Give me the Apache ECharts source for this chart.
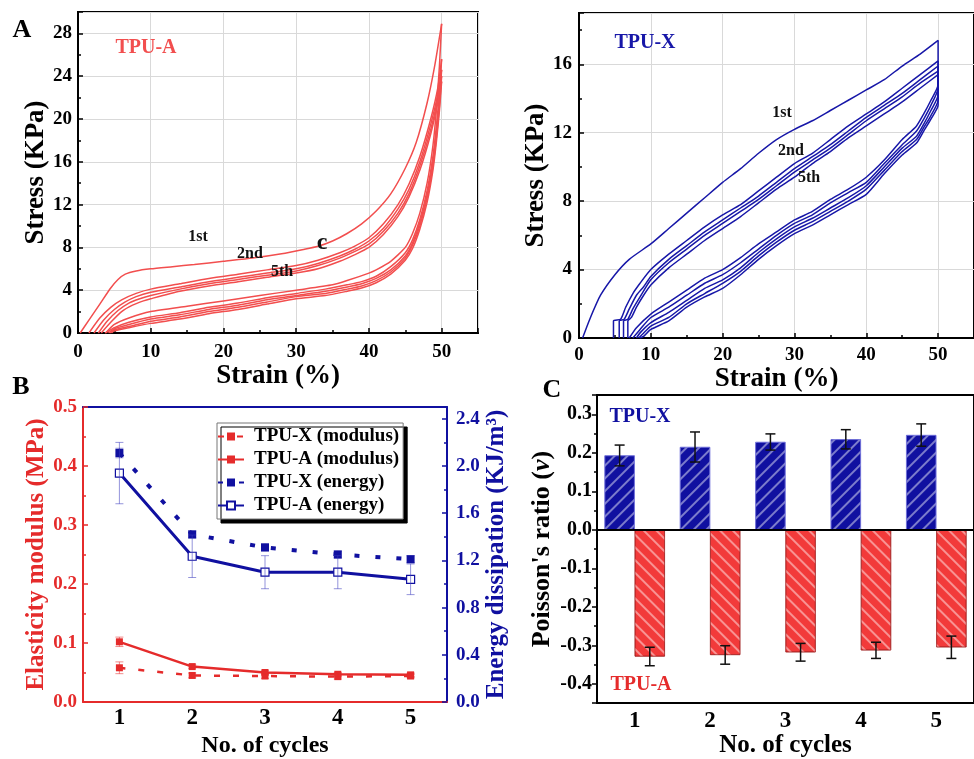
<!DOCTYPE html>
<html>
<head>
<meta charset="utf-8">
<script src="https://cdn.jsdelivr.net/npm/echarts@6/dist/echarts.min.js"></script>
<style>html,body{margin:0;padding:0;background:#fff}#c{width:974px;height:759px}</style>
</head>
<body>
<div id="c"></div>
<script>
// ---------- Panel A : TPU-A hysteresis loops (strain %, stress KPa) ----------
const a1Load = [[0.3,0],[1.5,1.2],[3,2.7],[4.5,4.2],[5.5,5.0],[6.5,5.5],[8,5.8],[10,6.0],[13,6.2],[16,6.4],[20,6.7],[24,7.0],[28,7.4],[31,7.8],[33,8.1],[35,8.6],[37,9.3],[39,10.2],[41,11.4],[43,13.0],[45,15.4],[46.5,17.8],[48,21.5],[49,24.8],[50,28.9]];
const a1Unload = [[50,28.9],[49.7,25],[49.3,21],[48.8,17.5],[48,14],[47,11.2],[46,9.3],[45,8.0],[43,6.7],[41,5.9],[40,5.6],[37,4.9],[35,4.5],[30,4.0],[25,3.5],[20,3.0],[15,2.5],[10,2.0],[7,1.4],[5,0.8],[3.8,0]];
const a2Load = [[1.5,0],[3,1.4],[4.5,2.4],[6,3.1],[8,3.7],[10,4.1],[14,4.6],[18,5.1],[22,5.5],[26,5.9],[30,6.3],[33,6.8],[36,7.5],[38,8.1],[40,8.9],[42,10.2],[44,12.0],[45.5,13.9],[47,16.5],[48.5,20.0],[49.5,23.0],[50,25.6]];
const a2Unload = [[50,25.6],[49.7,22.5],[49.3,19.5],[48.8,16.5],[48,13.3],[47,10.6],[46,8.7],[45,7.5],[43,6.2],[41,5.3],[39,4.8],[37,4.5],[34,4.1],[30,3.7],[26,3.3],[22,2.8],[18,2.4],[14,1.9],[10,1.5],[7,1.0],[5,0.5],[4,0.1],[3.7,0]];
const a3Load = [[2.2,0],[3.5,1.2],[5,2.2],[6.5,2.9],[8,3.4],[10,3.8],[14,4.3],[18,4.8],[22,5.2],[26,5.6],[30,6.0],[33,6.5],[36,7.2],[38,7.8],[40,8.6],[42,9.8],[44,11.6],[45.5,13.4],[47,16.0],[48.5,19.5],[49.5,22.4],[50,24.6]];
const a3Unload = [[50,24.6],[49.7,21.7],[49.3,18.8],[48.8,16.0],[48,12.9],[47,10.3],[46,8.4],[45,7.2],[43,5.9],[41,5.1],[39,4.6],[37,4.3],[34,3.9],[30,3.5],[26,3.1],[22,2.6],[18,2.2],[14,1.7],[10,1.3],[7,0.8],[5,0.4],[4.2,0]];
const a4Load = [[2.8,0],[4,1.1],[5.5,2.1],[7,2.8],[8.5,3.2],[10,3.5],[14,4.1],[18,4.6],[22,5.0],[26,5.4],[30,5.8],[33,6.3],[36,7.0],[38,7.6],[40,8.3],[42,9.5],[44,11.2],[45.5,13.0],[47,15.6],[48.5,19.0],[49.5,22.0],[50,24.0]];
const a4Unload = [[50,24.0],[49.7,21.2],[49.3,18.4],[48.8,15.6],[48,12.6],[47,10.0],[46,8.2],[45,7.0],[43,5.7],[41,4.9],[39,4.4],[37,4.1],[34,3.7],[30,3.4],[26,2.9],[22,2.4],[18,2.0],[14,1.5],[10,1.1],[7,0.6],[5,0.3],[4.4,0]];
const a5Load = [[3.2,0],[4.5,1.0],[6,2.0],[7.5,2.6],[9,3.0],[10,3.2],[14,3.9],[18,4.4],[22,4.8],[26,5.2],[30,5.6],[33,6.0],[36,6.7],[38,7.3],[40,8.0],[42,9.2],[44,10.9],[45.5,12.7],[47,15.2],[48.5,18.6],[49.5,21.6],[50,23.5]];
const a5Unload = [[50,23.5],[49.7,20.8],[49.3,18.0],[48.8,15.2],[48,12.2],[47,9.7],[46,7.9],[45,6.8],[43,5.5],[41,4.7],[39,4.2],[37,3.9],[34,3.5],[30,3.2],[26,2.7],[22,2.2],[18,1.8],[14,1.3],[10,0.9],[7,0.5],[5,0.2],[4.6,0]];

// ---------- Panel A : TPU-X hysteresis loops ----------
const x1Load = [[0.5,0],[1.5,1.1],[3,2.5],[5,3.7],[7,4.6],[10,5.5],[12.5,6.4],[15,7.3],[17.5,8.2],[20,9.1],[22.5,9.9],[25,10.8],[27.5,11.6],[30,12.2],[32.5,12.7],[35,13.3],[37.5,13.9],[40,14.5],[42.5,15.1],[45,15.9],[47.5,16.6],[50,17.4]];
const x1Unload = [[50,17.4],[50,14.8],[49,13.9],[48,13.1],[47,12.4],[45,11.6],[42.5,10.4],[40,9.4],[37.5,8.7],[35,8.1],[32.5,7.4],[30,6.9],[27.5,6.2],[25,5.5],[22.5,4.7],[20,4.0],[17.5,3.5],[15,2.8],[12.5,2.1],[10,1.4],[8,0.6],[7,0]];
const x2Load = [[4.8,0],[4.8,1.0],[5.8,1.1],[6.5,1.8],[7.5,2.6],[8.5,3.2],[10,4.0],[12.5,4.9],[15,5.7],[17.5,6.5],[20,7.2],[22.5,7.8],[25,8.6],[27.5,9.4],[30,10.2],[32.5,10.8],[35,11.6],[37.5,12.4],[40,13.1],[42.5,13.8],[45,14.6],[47.5,15.4],[50,16.2]];
const x2Unload = [[50,16.2],[50,14.6],[49,13.6],[48,12.8],[47,12.1],[45,11.3],[42.5,10.2],[40,9.1],[37.5,8.5],[35,7.9],[32.5,7.2],[30,6.7],[27.5,6.0],[25,5.2],[22.5,4.4],[20,3.7],[17.5,3.2],[15,2.5],[12.5,1.8],[10,1.2],[8.5,0.5],[7.5,0]];
const x3Load = [[5.6,0],[5.6,1.0],[6.3,1.1],[7,1.7],[8,2.5],[9,3.0],[10,3.6],[12.5,4.6],[15,5.4],[17.5,6.2],[20,6.9],[22.5,7.6],[25,8.3],[27.5,9.1],[30,9.9],[32.5,10.6],[35,11.3],[37.5,12.1],[40,12.9],[42.5,13.6],[45,14.3],[47.5,15.1],[50,15.9]];
const x3Unload = [[50,15.9],[50,14.2],[49,13.3],[48,12.5],[47,11.8],[45,11.1],[42.5,10.0],[40,8.9],[37.5,8.2],[35,7.6],[32.5,7.0],[30,6.5],[27.5,5.8],[25,5.0],[22.5,4.1],[20,3.4],[17.5,2.9],[15,2.2],[12.5,1.5],[10,0.9],[8.5,0.3],[8,0]];
const x4Load = [[6.2,0],[6.2,1.0],[6.8,1.1],[7.5,1.7],[8.5,2.4],[10,3.4],[12.5,4.4],[15,5.2],[17.5,6.0],[20,6.7],[22.5,7.4],[25,8.1],[27.5,8.9],[30,9.7],[32.5,10.4],[35,11.1],[37.5,11.9],[40,12.7],[42.5,13.4],[45,14.1],[47.5,14.9],[50,15.6]];
const x4Unload = [[50,15.6],[50,13.9],[49,13.0],[48,12.3],[47,11.6],[45,10.9],[42.5,9.8],[40,8.7],[37.5,8.0],[35,7.4],[32.5,6.8],[30,6.3],[27.5,5.6],[25,4.8],[22.5,3.9],[20,3.2],[17.5,2.6],[15,2.0],[12.5,1.2],[10,0.7],[8.8,0.2],[8.3,0]];
const x5Load = [[6.8,0],[6.8,1.0],[7.3,1.2],[8,1.8],[9,2.5],[10,3.1],[12.5,4.1],[15,4.9],[17.5,5.7],[20,6.4],[22.5,7.1],[25,7.9],[27.5,8.7],[30,9.4],[32.5,10.2],[35,10.9],[37.5,11.7],[40,12.4],[42.5,13.1],[45,13.8],[47.5,14.6],[50,15.4]];
const x5Unload = [[50,15.4],[50,13.6],[49,12.8],[48,12.1],[47,11.4],[45,10.7],[42.5,9.6],[40,8.4],[37.5,7.8],[35,7.2],[32.5,6.6],[30,6.1],[27.5,5.4],[25,4.6],[22.5,3.7],[20,2.9],[17.5,2.4],[15,1.8],[12.5,1.0],[10,0.5],[9,0.1],[8.5,0]];

// ---------- Panel B ----------
const cycles = ['1','2','3','4','5'];
const xModulus = [0.058,0.045,0.044,0.043,0.044];
const xModulusErr = [0.010,0.004,0.004,0.004,0.003];
const aModulus = [0.102,0.060,0.050,0.047,0.046];
const aModulusErr = [0.008,0.003,0.003,0.003,0.003];
const xEnergy = [2.11,1.42,1.31,1.25,1.21];
const xEnergyErr = [0.04,0.03,0.03,0.03,0.03];
const aEnergy = [1.94,1.235,1.10,1.10,1.04];
const aEnergyErr = [0.26,0.18,0.14,0.14,0.13];

// ---------- Panel C ----------
const xPoisson = [0.193,0.215,0.228,0.235,0.246];
const xPoissonErr = [0.027,0.039,0.021,0.025,0.029];
const aPoisson = [-0.329,-0.325,-0.318,-0.313,-0.305];
const aPoissonErr = [0.024,0.024,0.023,0.021,0.029];

const FF = '"Liberation Serif", "Times New Roman", serif';
const RED = '#f24e4e';
const BLUE = '#1717a8';
const BRED = '#e52b2b';
const BBLUE = '#1010a0';

const chart = echarts.init(document.getElementById('c'), null, {renderer: 'canvas'});

function loopSeries(arr, xi, color) {
  return arr.map(d => ({
    type: 'line', xAxisIndex: xi, yAxisIndex: xi, data: d, showSymbol: false, symbol: 'none',
    smooth: 0.2, lineStyle: {color: color, width: 1.5}, silent: true, z: 3
  }));
}

function errSeries(xi, yi, values, errs, color, width, cap, offset) {
  return {
    type: 'custom', xAxisIndex: xi, yAxisIndex: yi, silent: true, z: 5,
    data: values.map((v, i) => [i, v, errs[i]]),
    renderItem: function (params, api) {
      const i = api.value(0), v = api.value(1), e = api.value(2);
      const t = api.coord([i, v + e]);
      const b = api.coord([i, v - e]);
      const x = t[0] + offset * api.size([1, 0])[0];
      const st = {stroke: color, lineWidth: width};
      return {type: 'group', children: [
        {type: 'line', shape: {x1: x, y1: t[1], x2: x, y2: b[1]}, style: st},
        {type: 'line', shape: {x1: x - cap, y1: t[1], x2: x + cap, y2: t[1]}, style: st},
        {type: 'line', shape: {x1: x - cap, y1: b[1], x2: x + cap, y2: b[1]}, style: st}
      ]};
    }
  };
}

const tickLab = (color, size) => ({fontFamily: FF, fontWeight: 'bold', fontSize: size, color: color});
const nameSty = (color, size) => ({fontFamily: FF, fontWeight: 'bold', fontSize: size, color: color});

function aXAxis(gi, margin) {
  return {
    type: 'value', gridIndex: gi, min: 0, max: 55, interval: 10,
    name: 'Strain (%)', nameLocation: 'middle', nameGap: 24, nameTextStyle: nameSty('#000', 27),
    axisLine: {show: true, onZero: false, lineStyle: {color: '#000', width: 2}},
    axisTick: {show: true, inside: true, length: 5, lineStyle: {color: '#000', width: 1.5}},
    minorTick: {show: true, splitNumber: 2, length: 3, lineStyle: {color: '#000', width: 1.5}},
    axisLabel: Object.assign(tickLab('#000', 19), {margin: margin, showMaxLabel: false}),
    splitLine: {show: true, lineStyle: {color: '#d9d9d9', width: 1}}
  };
}
function aYAxis(gi, max, gap, margin) {
  return {
    type: 'value', gridIndex: gi, min: 0, max: max, interval: 4,
    name: 'Stress (KPa)', nameLocation: 'middle', nameGap: gap, nameRotate: 90, nameTextStyle: nameSty('#000', 27),
    axisLine: {show: true, onZero: false, lineStyle: {color: '#000', width: 2}},
    axisTick: {show: true, inside: true, length: 5, lineStyle: {color: '#000', width: 1.5}},
    minorTick: {show: true, splitNumber: 2, length: 3, lineStyle: {color: '#000', width: 1.5}},
    axisLabel: Object.assign(tickLab('#000', 19), {margin: margin, showMaxLabel: false}),
    splitLine: {show: true, lineStyle: {color: '#d9d9d9', width: 1}}
  };
}

const decalX = {symbol: 'rect', symbolSize: 1, dashArrayX: [1, 0], dashArrayY: [1.2, 7], rotation: -Math.PI / 4, color: 'rgba(255,255,255,0.45)'};
const decalA = {symbol: 'rect', symbolSize: 1, dashArrayX: [1, 0], dashArrayY: [1.2, 7], rotation: Math.PI / 4, color: 'rgba(255,255,255,0.45)'};

const txt = (x, y, text, size, color, align) => ({
  type: 'text', x: x, y: y, silent: true, z: 100,
  style: {text: text, fill: color, font: 'bold ' + size + 'px ' + FF, align: align || 'center', verticalAlign: 'middle'}
});

const option = {
  animation: false,
  backgroundColor: '#fff',
  textStyle: {fontFamily: FF},
  grid: [
    {left: 78, top: 12, width: 400, height: 321, show: true, borderColor: '#000', borderWidth: 2, backgroundColor: 'transparent'},
    {left: 579, top: 13, width: 403, height: 325, show: true, borderColor: '#000', borderWidth: 2, backgroundColor: 'transparent'},
    {left: 83, top: 407, width: 364, height: 296},
    {left: 597, top: 395, width: 383, height: 310, show: true, borderColor: '#000', borderWidth: 2, backgroundColor: 'transparent'}
  ],
  legend: {
    data: ['TPU-X (modulus)', 'TPU-A (modulus)', 'TPU-X (energy)', 'TPU-A (energy)'],
    orient: 'vertical', left: 217, top: 423, itemWidth: 26, itemHeight: 10, itemGap: 4,
    padding: [4, 4, 4, 0], backgroundColor: '#fff', borderColor: '#777', borderWidth: 1,
    shadowColor: '#000', shadowOffsetX: 4, shadowOffsetY: 4, shadowBlur: 0.01,
    selectedMode: false,
    textStyle: {fontFamily: FF, fontWeight: 'bold', fontSize: 19, color: '#000', padding: [0, 0, 0, 5]}
  },
  xAxis: [
    aXAxis(0, 10),
    aXAxis(1, 8),
    {
      type: 'category', gridIndex: 2, data: cycles, position: 'bottom',
      name: 'No. of cycles', nameLocation: 'middle', nameGap: 32, nameTextStyle: nameSty('#000', 24),
      axisLine: {show: true, onZero: false, lineStyle: {color: BRED, width: 2}},
      axisTick: {show: false}, axisLabel: Object.assign(tickLab('#000', 23), {margin: 5}),
      splitLine: {show: false}
    },
    {
      type: 'category', gridIndex: 2, data: cycles, position: 'top',
      axisLine: {show: true, onZero: false, lineStyle: {color: BBLUE, width: 2}},
      axisTick: {show: false}, axisLabel: {show: false}, splitLine: {show: false}
    },
    {
      type: 'category', gridIndex: 3, data: cycles, position: 'bottom',
      name: 'No. of cycles', nameLocation: 'middle', nameGap: 28, nameTextStyle: nameSty('#000', 25),
      axisLine: {show: true, onZero: false, lineStyle: {color: '#000', width: 2}},
      axisTick: {show: false}, axisLabel: Object.assign(tickLab('#000', 23), {margin: 6}),
      splitLine: {show: false}
    }
  ],
  yAxis: [
    aYAxis(0, 30, 28, 6),
    aYAxis(1, 19, 24, 7),
    {
      type: 'value', gridIndex: 2, min: 0, max: 0.5, interval: 0.1, position: 'left',
      name: 'Elasticity modulus (MPa)', nameLocation: 'middle', nameGap: 32, nameRotate: 90, nameTextStyle: nameSty(BRED, 25),
      axisLine: {show: true, onZero: false, lineStyle: {color: BRED, width: 2}},
      axisTick: {show: true, inside: true, length: 5, lineStyle: {color: BRED, width: 1.5}},
      minorTick: {show: true, splitNumber: 2, length: 3, lineStyle: {color: BRED, width: 1.5}},
      axisLabel: Object.assign(tickLab(BRED, 19), {margin: 6, formatter: v => v.toFixed(1)}),
      splitLine: {show: false}
    },
    {
      type: 'value', gridIndex: 2, min: 0, max: 2.5, interval: 0.4, position: 'right',
      name: 'Energy dissipation (KJ/m³)', nameLocation: 'middle', nameGap: 34, nameRotate: 90, nameTextStyle: nameSty(BBLUE, 25),
      axisLine: {show: true, onZero: false, lineStyle: {color: BBLUE, width: 2}},
      axisTick: {show: true, inside: true, length: 5, lineStyle: {color: BBLUE, width: 1.5}},
      minorTick: {show: true, splitNumber: 2, length: 3, lineStyle: {color: BBLUE, width: 1.5}},
      axisLabel: Object.assign(tickLab(BBLUE, 19), {margin: 9, showMaxLabel: false, formatter: v => v.toFixed(1)}),
      splitLine: {show: false}
    },
    {
      type: 'value', gridIndex: 3, min: -0.45, max: 0.35, splitNumber: 8,
      name: "Poisson's ratio ({i|ν})", nameLocation: 'middle', nameGap: 42, nameRotate: 90,
      nameTextStyle: Object.assign(nameSty('#000', 26), {rich: {i: {fontFamily: FF, fontWeight: 'bold', fontStyle: 'italic', fontSize: 26, color: '#000'}}}),
      axisLine: {show: true, onZero: false, lineStyle: {color: '#000', width: 2}},
      axisTick: {show: true, inside: false, length: 5, lineStyle: {color: '#000', width: 1.5}},
      minorTick: {show: true, splitNumber: 2, length: 3, lineStyle: {color: '#000', width: 1.5}},
      axisLabel: Object.assign(tickLab('#000', 20), {margin: 5, showMinLabel: false, showMaxLabel: false, formatter: v => v.toFixed(1)}),
      splitLine: {show: false}
    }
  ],
  graphic: [
    txt(22, 30, 'A', 26, '#000'),
    txt(21, 387, 'B', 26, '#000'),
    txt(552, 390, 'C', 26, '#000'),
    txt(146, 48, 'TPU-A', 20, RED),
    txt(198, 237, '1st', 16, '#111'),
    txt(250, 254, '2nd', 16, '#111'),
    txt(282, 272, '5th', 16, '#111'),
    txt(322, 243, 'c', 24, '#111'),
    txt(645, 43, 'TPU-X', 20, BLUE),
    txt(782, 113, '1st', 16, '#111'),
    txt(791, 151, '2nd', 16, '#111'),
    txt(809, 178, '5th', 16, '#111'),
    txt(640, 417, 'TPU-X', 20, BBLUE),
    txt(641, 685, 'TPU-A', 20, BRED)
  ],
  series: [].concat(
    loopSeries([a1Load, a1Unload, a2Load, a2Unload, a3Load, a3Unload, a4Load, a4Unload, a5Load, a5Unload], 0, RED),
    loopSeries([x1Load, x1Unload, x2Load, x2Unload, x3Load, x3Unload, x4Load, x4Unload, x5Load, x5Unload], 1, BLUE),
    [
      errSeries(2, 2, xModulus, xModulusErr, 'rgba(229,43,43,0.55)', 1, 4, 0),
      errSeries(2, 2, aModulus, aModulusErr, 'rgba(229,43,43,0.55)', 1, 4, 0),
      errSeries(2, 3, xEnergy, xEnergyErr, 'rgba(16,16,160,0.5)', 1, 4, 0),
      errSeries(2, 3, aEnergy, aEnergyErr, 'rgba(60,60,190,0.55)', 1, 4, 0),
      {
        name: 'TPU-X (modulus)', type: 'line', xAxisIndex: 2, yAxisIndex: 2, data: xModulus,
        symbol: 'rect', symbolSize: 7, itemStyle: {color: BRED}, z: 4,
        lineStyle: {color: BRED, width: 2.5, type: [6, 13]}
      },
      {
        name: 'TPU-A (modulus)', type: 'line', xAxisIndex: 2, yAxisIndex: 2, data: aModulus,
        symbol: 'rect', symbolSize: 7, itemStyle: {color: BRED}, z: 4,
        lineStyle: {color: BRED, width: 2.5}
      },
      {
        name: 'TPU-X (energy)', type: 'line', xAxisIndex: 2, yAxisIndex: 3, data: xEnergy,
        symbol: 'rect', symbolSize: 8, itemStyle: {color: BBLUE}, z: 4,
        lineStyle: {color: BBLUE, width: 4, type: [5, 16]}
      },
      {
        name: 'TPU-A (energy)', type: 'line', xAxisIndex: 2, yAxisIndex: 3, data: aEnergy,
        symbol: 'rect', symbolSize: 8, itemStyle: {color: '#fff', borderColor: BBLUE, borderWidth: 1.2}, z: 4,
        lineStyle: {color: BBLUE, width: 3}
      },
      {
        name: 'TPU-X', type: 'bar', xAxisIndex: 4, yAxisIndex: 4, data: xPoisson,
        barWidth: '40%', barGap: '0%',
        itemStyle: {color: BBLUE, borderColor: '#6a6ad8', borderWidth: 0.6, decal: decalX},
        markLine: {silent: true, symbol: 'none', label: {show: false},
          lineStyle: {color: '#000', width: 2, type: 'solid'}, data: [{yAxis: 0}]}
      },
      {
        name: 'TPU-A', type: 'bar', xAxisIndex: 4, yAxisIndex: 4, data: aPoisson,
        barWidth: '40%', barGap: '0%',
        itemStyle: {color: '#f23a3a', borderColor: '#a02020', borderWidth: 0.6, decal: decalA}
      },
      errSeries(4, 4, xPoisson, xPoissonErr, '#111', 1.5, 5, -0.2),
      errSeries(4, 4, aPoisson, aPoissonErr, '#111', 1.5, 5, 0.2)
    ]
  )
};
chart.setOption(option);
</script>
</body>
</html>
